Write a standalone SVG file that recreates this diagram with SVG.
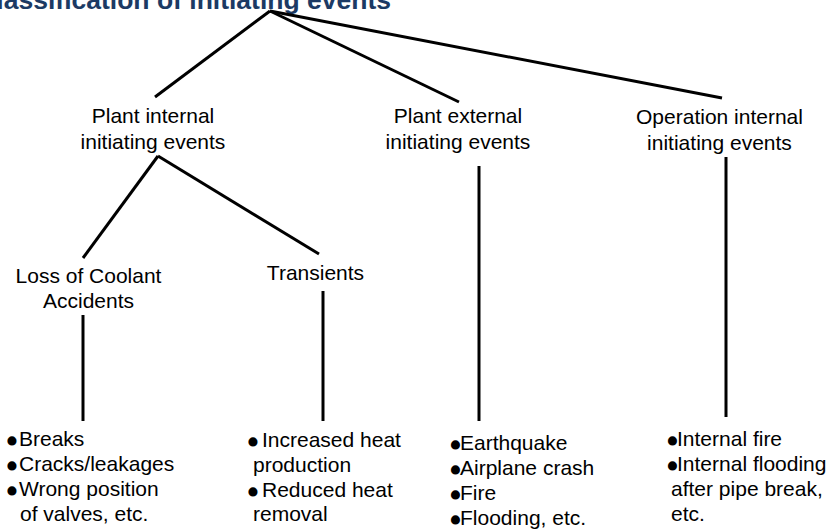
<svg xmlns="http://www.w3.org/2000/svg" width="833" height="529" viewBox="0 0 833 529">
<style>
.t{font-family:"Liberation Sans",Arial,sans-serif;font-size:21px;fill:#000}
.c{text-anchor:middle}
.b{font-size:14px;stroke:#000;stroke-width:5.2;stroke-linejoin:round}
.title{font-family:"Liberation Sans",Arial,sans-serif;font-size:26.5px;font-weight:bold;fill:#1c3a64;text-anchor:end}
.ln{stroke:#000;stroke-width:3;fill:none;stroke-linecap:butt}
</style>
<rect width="833" height="529" fill="#fff"/>
<text class="title" x="391" y="9">Classification of initiating events</text>
<g id="connectors">
<line class="ln" x1="270" y1="11" x2="155" y2="97"/>
<line class="ln" x1="270" y1="11" x2="459" y2="102"/>
<line class="ln" x1="270" y1="11" x2="722" y2="98"/>
<line class="ln" x1="158" y1="156" x2="83" y2="258"/>
<line class="ln" x1="158" y1="156" x2="319" y2="254"/>
<line class="ln" x1="83" y1="315" x2="83" y2="421"/>
<line class="ln" x1="323" y1="291" x2="323" y2="421"/>
<line class="ln" x1="479" y1="166" x2="479" y2="421"/>
<line class="ln" x1="726" y1="157" x2="726" y2="417"/>
</g>
<g id="plant-internal">
<text class="t c" x="153" y="123">Plant internal</text>
<text class="t c" x="153" y="149">initiating events</text>
</g>
<g id="plant-external">
<text class="t c" x="458" y="123">Plant external</text>
<text class="t c" x="458" y="149">initiating events</text>
</g>
<g id="operation-internal">
<text class="t c" x="719.5" y="124">Operation internal</text>
<text class="t c" x="719.5" y="150">initiating events</text>
</g>
<g id="loca">
<text class="t c" x="88.5" y="283">Loss of Coolant</text>
<text class="t c" x="88.5" y="308">Accidents</text>
</g>
<g id="transients">
<text class="t c" x="315.5" y="280">Transients</text>
</g>
<g id="loca-list">
<text class="t" x="9.5" y="446"><tspan class="b">•</tspan><tspan x="19" y="446">Breaks</tspan></text>
<text class="t" x="9.5" y="471"><tspan class="b">•</tspan><tspan x="19" y="471">Cracks/leakages</tspan></text>
<text class="t" x="9.5" y="496"><tspan class="b">•</tspan><tspan x="19" y="496">Wrong position</tspan></text>
<text class="t" x="20" y="521">of valves, etc.</text>
</g>
<g id="transients-list">
<text class="t" x="250.5" y="447"><tspan class="b">•</tspan><tspan x="262" y="447">Increased heat</tspan></text>
<text class="t" x="253" y="472">production</text>
<text class="t" x="250.5" y="497"><tspan class="b">•</tspan><tspan x="262" y="497">Reduced heat</tspan></text>
<text class="t" x="253" y="521">removal</text>
</g>
<g id="external-list">
<text class="t" x="453" y="450"><tspan class="b">•</tspan><tspan x="460" y="450">Earthquake</tspan></text>
<text class="t" x="453" y="475"><tspan class="b">•</tspan><tspan x="460" y="475">Airplane crash</tspan></text>
<text class="t" x="453" y="500"><tspan class="b">•</tspan><tspan x="460" y="500">Fire</tspan></text>
<text class="t" x="453" y="525"><tspan class="b">•</tspan><tspan x="460" y="525">Flooding, etc.</tspan></text>
</g>
<g id="operation-list">
<text class="t" x="670" y="446"><tspan class="b">•</tspan><tspan x="677" y="446">Internal fire</tspan></text>
<text class="t" x="670" y="471"><tspan class="b">•</tspan><tspan x="677" y="471">Internal flooding</tspan></text>
<text class="t" x="671" y="496">after pipe break,</text>
<text class="t" x="671" y="521">etc.</text>
</g>
</svg>
